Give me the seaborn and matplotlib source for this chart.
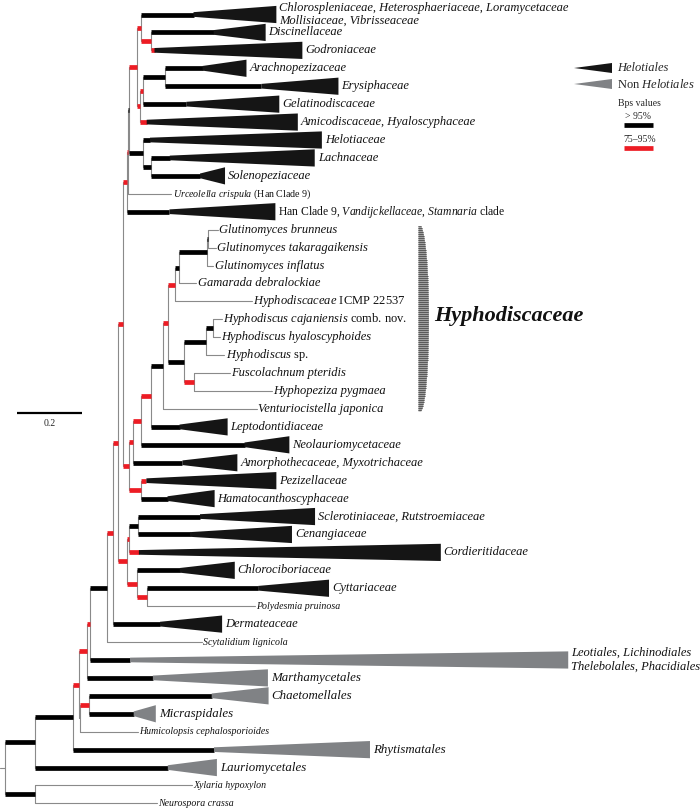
import numpy as np
import matplotlib
matplotlib.use("Agg")
import matplotlib.pyplot as plt
import seaborn as sns
from matplotlib.patches import Polygon

# Style
sns.set_theme(style="white")
plt.rcParams["font.family"] = ["Liberation Serif", "DejaVu Serif"]
plt.rcParams["mathtext.fontset"] = "custom"
plt.rcParams["mathtext.rm"] = "Liberation Serif"
plt.rcParams["mathtext.it"] = "Liberation Serif:italic"
plt.rcParams["mathtext.bf"] = "Liberation Serif:bold"


# Tree helpers (branch lengths in substitutions/site, support: H >95%, M 75-95%)
def tip(name, length, sup=""):
    return {"name": name, "len": length, "sup": sup, "kids": []}


def clade(sup, length, *kids):
    return {"name": "", "len": length, "sup": sup, "kids": list(kids)}


# Upper Helotiales
upper = clade("M", 0.023,
              clade("M", 0.012,
                    tip("chlorosplen", 0.163, "H"),
                    clade("M", 0.031,
                          tip("discinell", 0.194, "H"),
                          tip("godron", 0.012, "M"))),
              clade("M", 0.009,
                    clade("M", 0.012,
                          clade("H", 0.065,
                                tip("arachno", 0.117, "H"),
                                tip("erysiph", 0.298, "H")),
                          tip("gelatino", 0.132, "H")),
                    tip("amicodisc", 0.022, "M")))

helotiaceae = clade("H", 0.042,
                    tip("helotiaceae", 0.022, "H"),
                    clade("H", 0.025,
                          tip("lachn", 0.058, "H"),
                          tip("soleno", 0.151, "H")))

top_group = clade("M", 0.012,
                  clade("M", 0.003,
                        clade("H", 0.005, upper, helotiaceae),
                        tip("urceolella", 0.135)),
                  tip("han", 0.132, "H"))

# Hyphodiscaceae
glutinomyces = clade("H", 0.089,
                     clade("H", 0.003, tip("brunneus", 0.028), tip("takara", 0.022)),
                     tip("inflatus", 0.018))
hyphodiscus = clade("H", 0.065,
                    clade("H", 0.022, tip("cajan", 0.028), tip("hyalo", 0.022)),
                    tip("hsp", 0.058))
hyphodiscaceae = clade("H", 0.037,
                       clade("M", 0.015,
                             clade("M", 0.022,
                                   clade("H", 0.012, glutinomyces, tip("gamarada", 0.055)),
                                   tip("icmp", 0.237)),
                             clade("H", 0.052,
                                   hyphodiscus,
                                   clade("M", 0.031, tip("fusco", 0.108), tip("hyphopez", 0.237)))),
                       tip("venturio", 0.289))

mid_group = clade("M", 0.018,
                  clade("M", 0.015,
                        clade("M", 0.022,
                              clade("M", 0.031, hyphodiscaceae, tip("lepto", 0.089, "H")),
                              tip("neolaur", 0.320, "H")),
                        tip("amorpho", 0.151, "H")),
                  clade("M", 0.037,
                        tip("pezizell", 0.018, "M"),
                        tip("hamato", 0.083, "H")))

low_group = clade("M", 0.028,
                  clade("M", 0.006,
                        clade("H", 0.028, tip("sclerot", 0.191, "H"), tip("cenang", 0.160, "H")),
                        tip("cordierit", 0.031, "M")),
                  clade("M", 0.031,
                        tip("chlorocib", 0.132, "H"),
                        clade("M", 0.031, tip("cyttar", 0.342, "H"), tip("polydesmia", 0.332))))

helotiales = clade("H", 0.054,
                   clade("M", 0.018,
                         clade("M", 0.015,
                               clade("M", 0.015, top_group, mid_group),
                               low_group),
                         tip("dermat", 0.145, "H")),
                   tip("scytal", 0.292))

leotiomycetes = clade("H", 0.092,
                      clade("H", 0.117,
                            clade("M", 0.018,
                                  clade("M", 0.025,
                                        clade("M", 0.008, helotiales, tip("leotiales", 0.125, "H")),
                                        tip("marthamy", 0.203, "H")),
                                  clade("", 0.003,
                                        clade("M", 0.028,
                                              tip("chaetomell", 0.378, "H"),
                                              tip("micrasp", 0.138, "H")),
                                        tip("humicol", 0.178))),
                            tip("rhytism", 0.434, "H")),
                      tip("lauriomy", 0.409, "H"))

outgroup = clade("H", 0.092, tip("xylaria", 0.483), tip("neurospora", 0.375))
root = clade("", 0.0, leotiomycetes, outgroup)

# Collapsed clades: triangle length
wedge_len = {
    "chlorosplen": 0.255, "discinell": 0.160, "godron": 0.455, "arachno": 0.135,
    "erysiph": 0.237, "gelatino": 0.286, "amicodisc": 0.465, "helotiaceae": 0.529,
    "lachn": 0.446, "soleno": 0.077, "han": 0.326, "lepto": 0.148, "neolaur": 0.138,
    "amorpho": 0.169, "pezizell": 0.400, "hamato": 0.145, "sclerot": 0.354,
    "cenang": 0.314, "cordierit": 0.929, "chlorocib": 0.169, "cyttar": 0.218,
    "dermat": 0.191, "leotiales": 1.348, "marthamy": 0.354, "chaetomell": 0.175,
    "micrasp": 0.068, "rhytism": 0.480, "lauriomy": 0.151,
}
non_helotiales = ["leotiales", "marthamy", "chaetomell", "micrasp", "rhytism", "lauriomy"]

# Tip labels (text, size)
labels = {
    "chlorosplen": ("Chlorospleniaceae, Heterosphaeriaceae, Loramycetaceae\nMollisiaceae, Vibrisseaceae", 9),
    "discinell": ("Discinellaceae", 9),
    "godron": ("Godroniaceae", 9),
    "arachno": ("Arachnopezizaceae", 9),
    "erysiph": ("Erysiphaceae", 9),
    "gelatino": ("Gelatinodiscaceae", 9),
    "amicodisc": ("Amicodiscaceae, Hyaloscyphaceae", 9),
    "helotiaceae": ("Helotiaceae", 9),
    "lachn": ("Lachnaceae", 9),
    "soleno": ("Solenopeziaceae", 9),
    "urceolella": (r"$\mathit{Urceolella\ crispula}$ (Han Clade 9)", 7.2),
    "han": (r"Han Clade 9, $\mathit{Vandijckellaceae}$, $\mathit{Stamnaria}$ clade", 8.4),
    "brunneus": ("Glutinomyces brunneus", 9),
    "takara": ("Glutinomyces takaragaikensis", 9),
    "inflatus": ("Glutinomyces inflatus", 9),
    "gamarada": ("Gamarada debralockiae", 9),
    "icmp": (r"$\mathit{Hyphodiscaceae}$ ICMP 22537", 9),
    "cajan": (r"$\mathit{Hyphodiscus\ cajaniensis}$ comb. nov.", 9),
    "hyalo": ("Hyphodiscus hyaloscyphoides", 9),
    "hsp": (r"$\mathit{Hyphodiscus}$ sp.", 9),
    "fusco": ("Fuscolachnum pteridis", 9),
    "hyphopez": ("Hyphopeziza pygmaea", 9),
    "venturio": ("Venturiocistella japonica", 9),
    "lepto": ("Leptodontidiaceae", 9),
    "neolaur": ("Neolauriomycetaceae", 9),
    "amorpho": ("Amorphothecaceae, Myxotrichaceae", 9),
    "pezizell": ("Pezizellaceae", 9),
    "hamato": ("Hamatocanthoscyphaceae", 9),
    "sclerot": ("Sclerotiniaceae, Rutstroemiaceae", 9),
    "cenang": ("Cenangiaceae", 9),
    "cordierit": ("Cordieritidaceae", 9),
    "chlorocib": ("Chlorociboriaceae", 9),
    "cyttar": ("Cyttariaceae", 9),
    "polydesmia": ("Polydesmia pruinosa", 7.1),
    "dermat": ("Dermateaceae", 9),
    "scytal": ("Scytalidium lignicola", 7.1),
    "leotiales": ("Leotiales, Lichinodiales\nThelebolales, Phacidiales", 9),
    "marthamy": ("Marthamycetales", 9.3),
    "chaetomell": ("Chaetomellales", 9.3),
    "micrasp": ("Micraspidales", 9.3),
    "humicol": ("Humicolopsis cephalosporioides", 7.1),
    "rhytism": ("Rhytismatales", 9.3),
    "lauriomy": ("Lauriomycetales", 9.3),
    "xylaria": ("Xylaria hypoxylon", 7.1),
    "neurospora": ("Neurospora crassa", 7.1),
}

# Colours
BLACK = "#000000"
RED = "#ED1C24"
THIN = "#8A8A8A"
HEL = "#151515"
NON = "#808285"
sup_color = {"H": BLACK, "M": RED}

# Layout
leaves = []


def layout(node, x0):
    node["x0"] = x0
    node["x"] = x0 + node["len"]
    if node["kids"]:
        for k in node["kids"]:
            layout(k, node["x"])
        node["y"] = (node["kids"][0]["y"] + node["kids"][-1]["y"]) / 2
    else:
        node["y"] = len(leaves)
        leaves.append(node)


layout(root, 0.0)

# Figure (x in substitutions/site, y in tip rows)
fig, ax = plt.subplots(figsize=(7, 8.1), dpi=100)
ax.set_position([0, 0, 1, 1])
ax.set_xlim(-5 / 325, 695 / 325)
ax.set_ylim((810 - 14.5) / 17.93, -14.5 / 17.93)
ax.axis("off")


def px(x):
    return (x - 5) / 325


def py(y):
    return (y - 14.5) / 17.93


BAR = 3.4


def draw(node):
    if node["kids"]:
        ax.plot([node["x"], node["x"]], [node["kids"][0]["y"], node["kids"][-1]["y"]],
                color=THIN, lw=0.8, zorder=1)
        for k in node["kids"]:
            draw(k)
    if node["len"] > 0:
        if node["sup"]:
            ax.plot([node["x0"], node["x"]], [node["y"], node["y"]],
                    color=sup_color[node["sup"]], lw=BAR, solid_capstyle="butt", zorder=3)
        else:
            ax.plot([node["x0"], node["x"]], [node["y"], node["y"]],
                    color=THIN, lw=0.8, zorder=2)


draw(root)
ax.plot([px(0), root["x"]], [root["y"], root["y"]], color=THIN, lw=0.8)

# Collapsed clades and labels
t0, h = 0.13, 0.48
for leaf in leaves:
    name = leaf["name"]
    end = leaf["x"]
    if name in wedge_len:
        w = wedge_len[name]
        col = NON if name in non_helotiales else HEL
        ax.add_patch(Polygon([(end, leaf["y"] - t0), (end + w, leaf["y"] - h),
                              (end + w, leaf["y"] + h), (end, leaf["y"] + t0)],
                             closed=True, facecolor=col, edgecolor="none", zorder=4))
        end = end + w + 0.009
    else:
        end = end + 0.004
    text, size = labels[name]
    style = "normal" if "$" in text else "italic"
    ax.text(end, leaf["y"], text, fontsize=size, style=style, ha="left",
            va="center", linespacing=1.05 if name == "chlorosplen" else 1.2,
            color="#111111", zorder=5)

# Hyphodiscaceae bracket
yy = np.arange(226, 412, 1.0)
tt = (yy - 318.5) / 93.5
ww = 1.5 + 9 * np.sqrt(np.clip(1 - tt ** 2, 0, 1))
ax.fill_betweenx(py(yy), px(418), px(418 + ww), color="#A0A0A0", lw=0, zorder=1)
for yv, wv in zip(yy[::2], ww[::2]):
    ax.plot([px(418), px(418 + wv)], [py(yv), py(yv)], color="#333333", lw=0.45, zorder=2)
ax.text(px(434), py(316), "Hyphodiscaceae", fontsize=16, style="italic",
        fontweight="bold", ha="left", va="center", color="#111111")

# Legend
for yc, col in [(68, HEL), (84, NON)]:
    ax.add_patch(Polygon([(px(574), py(yc)), (px(612), py(yc - 5)), (px(612), py(yc + 5))],
                         closed=True, facecolor=col, edgecolor="none"))
ax.text(px(617), py(68), "Helotiales", fontsize=9, style="italic", va="center")
ax.text(px(617), py(84), r"Non $\mathit{Helotiales}$", fontsize=9, va="center")
ax.text(px(618), py(103), "Bps values", fontsize=7, va="center")
ax.text(px(625), py(116), "> 95%", fontsize=7, va="center")
ax.plot([px(624), px(653)], [py(125), py(125)], color=BLACK, lw=BAR, solid_capstyle="butt")
ax.text(px(623), py(139), "75–95%", fontsize=7, va="center")
ax.plot([px(624), px(653)], [py(148), py(148)], color=RED, lw=BAR, solid_capstyle="butt")

# Scale bar
ax.plot([px(17), px(17) + 0.2], [py(413), py(413)], color=BLACK, lw=1.6, solid_capstyle="butt")
ax.text(px(17) + 0.1, py(424), "0.2", fontsize=7, ha="center", va="center")

fig.savefig("out.png", dpi=100, facecolor="white")
